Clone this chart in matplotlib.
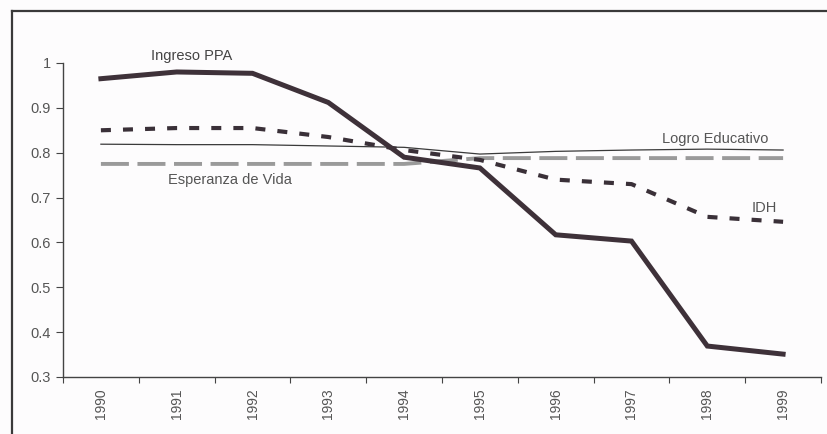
import matplotlib
matplotlib.use("Agg")
import matplotlib.pyplot as plt
from matplotlib.lines import Line2D
import numpy as np

plt.rcParams['font.family'] = ['Liberation Sans', 'DejaVu Sans']

years = ["1990", "1991", "1992", "1993", "1994", "1995", "1996", "1997", "1998", "1999"]
ingreso_ppa = [0.965, 0.980, 0.977, 0.912, 0.790, 0.766, 0.617, 0.603, 0.369, 0.351]
idh = [0.850, 0.855, 0.855, 0.835, 0.806, 0.784, 0.740, 0.730, 0.657, 0.646]
logro_educativo = [0.819, 0.818, 0.818, 0.815, 0.812, 0.797, 0.803, 0.806, 0.808, 0.806]
esperanza_vida = [0.775, 0.775, 0.775, 0.775, 0.775, 0.788, 0.788, 0.788, 0.788, 0.788]
yticks = [0.3, 0.4, 0.5, 0.6, 0.7, 0.8, 0.9, 1.0]
ytick_labels = ["0.3", "0.4", "0.5", "0.6", "0.7", "0.8", "0.9", "1"]

TXT = "#555555"
fig = plt.figure(figsize=(8.27, 4.34), dpi=100)
fig.patch.set_facecolor("#fdfcfd")

# outer box (top and left edges only are visible)
fig.add_artist(Line2D([12 / 827, 12 / 827], [0, 1 - 11 / 434], color="#3a3a3a", lw=1.6))
fig.add_artist(Line2D([12 / 827, 1], [1 - 11 / 434, 1 - 11 / 434], color="#3a3a3a", lw=1.6))

ax = fig.add_axes([63 / 827, 1 - 377 / 434, (821 - 63) / 827, (377 - 63) / 434])
ax.set_facecolor("none")
x = np.arange(len(years))

ax.plot(x, esperanza_vida, color="#9a9a9a", lw=2.8, dashes=(7.2, 2.2), dash_capstyle="butt")
ax.plot(x, logro_educativo, color="#3a3a3a", lw=0.9)
ax.plot(x, idh, color="#3a3038", lw=3.0, dashes=(2.4, 2.9), dash_capstyle="butt")
ax.plot(x, ingreso_ppa, color="#3e3139", lw=3.6, solid_joinstyle="miter")

ax.set_xlim(-0.5, len(years) - 0.5)
ax.set_ylim(0.3, 1.0)
ax.set_yticks(yticks)
ax.set_yticklabels(ytick_labels)
ax.set_xticks(np.arange(-0.5, len(years), 1.0))
ax.set_xticklabels([])
ax.set_xticks(x, minor=True)
ax.set_xticklabels(years, minor=True, rotation=90)
ax.tick_params(axis="x", which="minor", length=0, pad=8, labelsize=10, labelcolor=TXT)
ax.tick_params(axis="x", which="major", length=4, color="#444444", direction="out")
ax.tick_params(axis="y", length=5, color="#444444", labelsize=10.5, labelcolor=TXT, pad=4)

for side in ("top", "right"):
    ax.spines[side].set_visible(False)
for side in ("left", "bottom"):
    ax.spines[side].set_color("#444444")
    ax.spines[side].set_linewidth(1.0)

ax.text(1.2, 1.0, "Ingreso PPA", ha="center", va="bottom", fontsize=10.5, color="#444444")
ax.text(1.7, 0.755, "Esperanza de Vida", ha="center", va="top", fontsize=10.5, color=TXT)
ax.text(8.1, 0.814, "Logro Educativo", ha="center", va="bottom", fontsize=10.5, color=TXT)
ax.text(8.75, 0.662, "IDH", ha="center", va="bottom", fontsize=10.5, color=TXT)

fig.savefig("out.png", dpi=100)
